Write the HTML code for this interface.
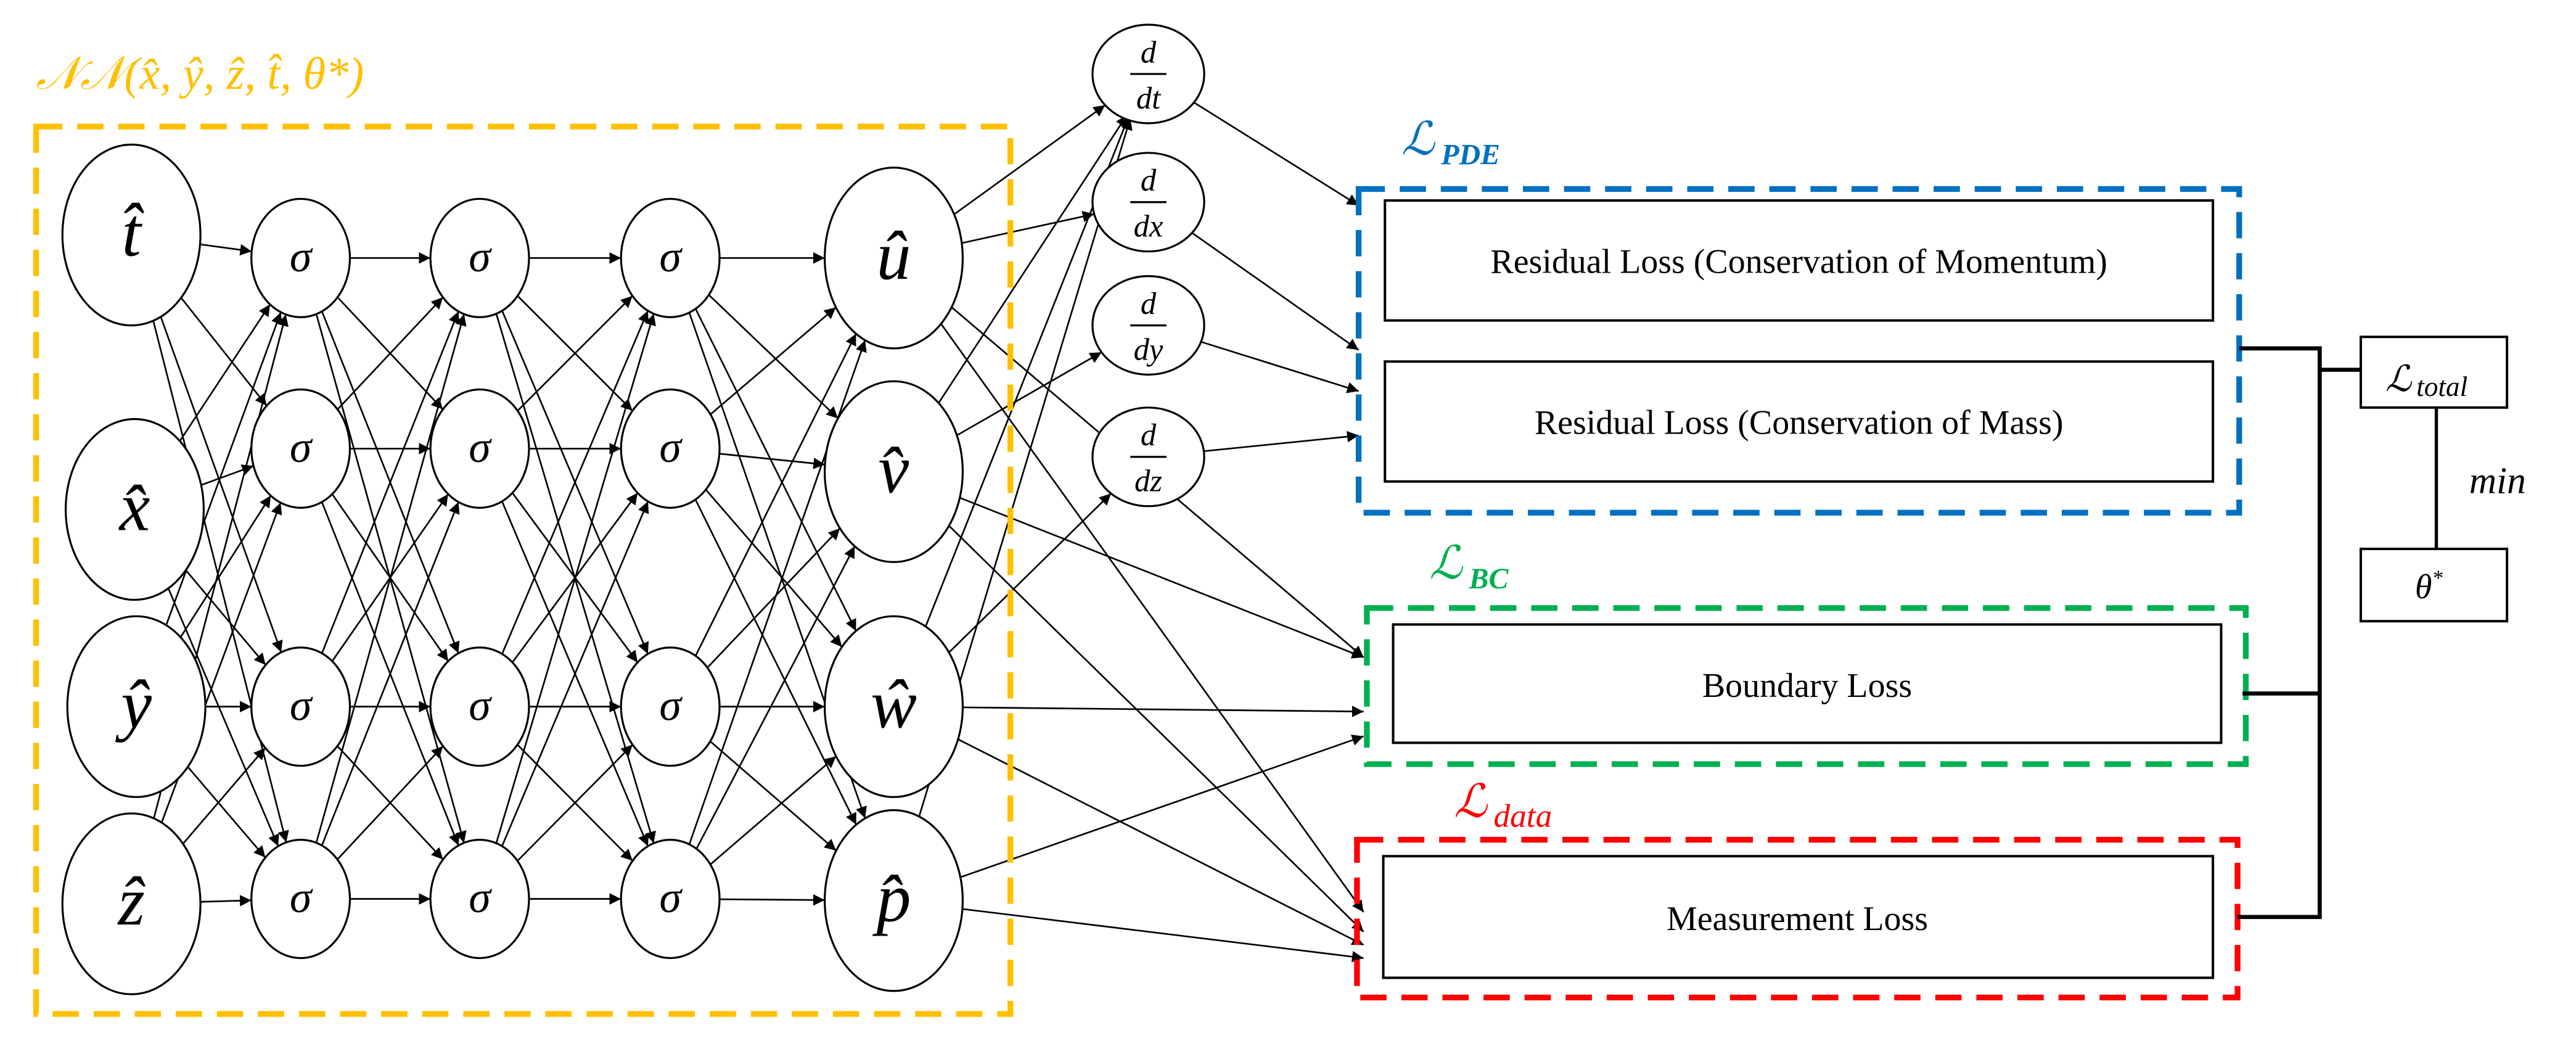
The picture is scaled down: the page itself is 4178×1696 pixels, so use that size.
<!DOCTYPE html>
<html><head><meta charset="utf-8">
<style>
html,body{margin:0;padding:0;background:#fff;}
svg{display:block;}
svg text{font-family:'Liberation Serif','Times New Roman',Times,'DejaVu Serif',serif;}
</style></head>
<body>
<svg id="s" width="4178" height="1696" viewBox="0 0 1568 636.5" xmlns="http://www.w3.org/2000/svg">
<defs>
<marker id="a" viewBox="0 0 10 10" refX="10" refY="5" markerWidth="7" markerHeight="7" markerUnits="userSpaceOnUse" orient="auto">
<path d="M0,0 L10,5 L0,10 z" fill="#000"/></marker>
</defs>
<g id="edges" stroke="#000" stroke-width="1" fill="none"></g>
<g id="nodes"></g>

<rect x="22" y="77" width="593" height="540" fill="none" stroke="#FFC000" stroke-width="3.5" stroke-dasharray="16,9"/>
<text x="22" y="54" font-size="28" font-style="italic" fill="#FFC000">𝒩𝒩(x̂, ŷ, ẑ, t̂, θ*)</text>

<rect x="827" y="115" width="536" height="197" fill="none" stroke="#0070C0" stroke-width="3.5" stroke-dasharray="16,9"/>
<text x="853" y="94" font-size="28" font-style="italic" fill="#0070C0">ℒ<tspan font-size="18" dx="4" dy="6" font-weight="bold">PDE</tspan></text>
<rect x="843" y="122" width="504" height="73" fill="#fff" stroke="#000" stroke-width="1.5"/>
<text x="1095" y="166" font-size="21" text-anchor="middle">Residual Loss (Conservation of Momentum)</text>
<rect x="843" y="220" width="504" height="73" fill="#fff" stroke="#000" stroke-width="1.5"/>
<text x="1095" y="264" font-size="21" text-anchor="middle">Residual Loss (Conservation of Mass)</text>

<rect x="832" y="370" width="535" height="95" fill="none" stroke="#00B050" stroke-width="3.5" stroke-dasharray="16,9"/>
<text x="870" y="352" font-size="28" font-style="italic" fill="#00B050">ℒ<tspan font-size="18" dx="4" dy="6" font-weight="bold">BC</tspan></text>
<rect x="848" y="380" width="504" height="72" fill="#fff" stroke="#000" stroke-width="1.5"/>
<text x="1100" y="424" font-size="21" text-anchor="middle">Boundary Loss</text>

<rect x="826" y="511" width="536" height="96" fill="none" stroke="#FF0000" stroke-width="3.5" stroke-dasharray="16,9"/>
<text x="885" y="497" font-size="28" font-style="italic" fill="#FF0000">ℒ<tspan font-size="20" dx="4" dy="6">data</tspan></text>
<rect x="842" y="521" width="505" height="74" fill="#fff" stroke="#000" stroke-width="1.5"/>
<text x="1094" y="566" font-size="21" text-anchor="middle">Measurement Loss</text>

<g stroke="#000" stroke-width="2.5" fill="none">
<path d="M1363 212 H1412 V558 H1362"/>
<path d="M1365 422 H1412"/>
<path d="M1412 225 H1437"/>
<path d="M1483 248 V334" stroke-width="2"/>
</g>
<rect x="1437" y="205" width="89" height="43" fill="#fff" stroke="#000" stroke-width="1.5"/>
<text x="1452" y="238" font-size="22" font-style="italic">ℒ<tspan font-size="17" dx="3" dy="3">total</tspan></text>
<rect x="1437" y="334" width="89" height="44" fill="#fff" stroke="#000" stroke-width="1.5"/>
<text x="1470" y="364" font-size="21" font-style="italic">θ<tspan font-size="13" dy="-8">*</tspan></text>
<text x="1503" y="300" font-size="23" font-style="italic">min</text>
</svg>
<script>
(function(){
var NS="http://www.w3.org/2000/svg";
var E=document.getElementById("edges"),N=document.getElementById("nodes");
function mk(t,at,p){var e=document.createElementNS(NS,t);for(var k in at)e.setAttribute(k,at[k]);(p||N).appendChild(e);return e;}
var inp=[[80,143,"t̂"],[82,310,"x̂"],[83,430,"ŷ"],[80,550,"ẑ"]].map(function(a){return {x:a[0],y:a[1],rx:42,ry:55,l:a[2],fs:42};});
var ys=[157,273,430,547];
function layer(x){return ys.map(function(y){return {x:x,y:y,rx:30,ry:36,l:"σ",fs:27};});}
var L1=layer(183),L2=layer(292),L3=layer(408);
var out=[[157,"û"],[287,"v̂"],[430,"ŵ"],[548,"p̂"]].map(function(a){return {x:544,y:a[0],rx:42,ry:55,l:a[1],fs:42};});
var der=[[45,"dt"],[123,"dx"],[198,"dy"],[278,"dz"]].map(function(a){return {x:699,y:a[0],rx:34,ry:30,d:a[1]};});
function bp(n,dx,dy){var t=Math.atan2(dy/n.ry,dx/n.rx);return [n.x+n.rx*Math.cos(t),n.y+n.ry*Math.sin(t)];}
function edge(a,b,tx,ty){
  var ex,ey;
  if(b){var p=bp(b,a.x-b.x,a.y-b.y);ex=p[0];ey=p[1];}else{ex=tx;ey=ty;}
  var s=bp(a,ex-a.x,ey-a.y);
  mk("line",{x1:s[0],y1:s[1],x2:ex,y2:ey,"marker-end":"url(#a)"},E);
}
function full(A,B){A.forEach(function(a){B.forEach(function(b){edge(a,b);});});}
full(inp,L1);full(L1,L2);full(L2,L3);full(L3,out);
edge(out[0],der[0]);edge(out[0],der[1]);
edge(out[1],null,686,70);edge(out[1],der[2]);
edge(out[2],null,687,71);edge(out[2],der[3]);
edge(out[3],null,688,72);
edge(der[0],null,827,125);edge(der[1],null,827,213);edge(der[2],null,827,238);edge(der[3],null,827,265);
edge(out[0],null,830,555);edge(out[1],null,830,400);edge(out[1],null,830,567);
edge(out[2],null,830,433);edge(out[2],null,830,575);
edge(out[3],null,830,448);edge(out[3],null,830,583);
edge(out[0],null,830,400);
[].concat(inp,L1,L2,L3,out).forEach(function(n){
  mk("ellipse",{cx:n.x,cy:n.y,rx:n.rx,ry:n.ry,fill:"#fff",stroke:"#000","stroke-width":1.2});
  var t=mk("text",{x:n.x,y:n.y+n.fs*0.3,"font-size":n.fs,"font-style":"italic","text-anchor":"middle"});t.textContent=n.l;
});
der.forEach(function(n){
  mk("ellipse",{cx:n.x,cy:n.y,rx:n.rx,ry:n.ry,fill:"#fff",stroke:"#000","stroke-width":1.2});
  var t=mk("text",{x:n.x,y:n.y-7,"font-size":19,"font-style":"italic","text-anchor":"middle"});t.textContent="d";
  mk("line",{x1:n.x-11,y1:n.y,x2:n.x+11,y2:n.y,stroke:"#000","stroke-width":1.2});
  var u=mk("text",{x:n.x,y:n.y+21,"font-size":19,"font-style":"italic","text-anchor":"middle"});u.textContent=n.d;
});
})();
</script>
</body></html>
